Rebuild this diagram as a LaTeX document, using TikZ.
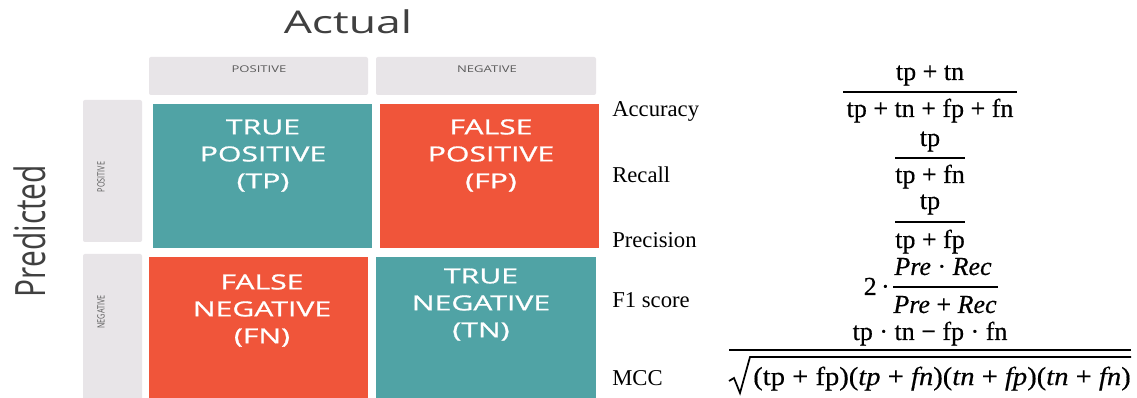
\documentclass[tikz,border=0pt]{standalone}
\usepackage{fontspec}
\newfontfamily\osans{Open Sans}
\newfontfamily\osansm{Open Sans}[FakeBold=0.8]
\newfontfamily\lserif{Liberation Serif}
\newfontfamily\lserifm{Liberation Serif}[FakeBold=0.4]
\definecolor{tealc}{HTML}{50A3A5}
\definecolor{orngc}{HTML}{F0553A}
\definecolor{hdrc}{HTML}{E8E5E8}
\definecolor{hdrtextc}{HTML}{5A5A5A}
\definecolor{ttlc}{HTML}{404040}
\newcommand{\cellstack}[1]{\scalebox{1.45}[1]{\begin{tabular}{@{}c@{}}#1\end{tabular}}}
\begin{document}
\begin{tikzpicture}[x=0.75pt,y=-0.75pt,
  hdrbox/.style={fill=hdrc,draw=none,rounded corners=1.5pt},
  tpbox/.style={fill=tealc,draw=none},
  fpbox/.style={fill=orngc,draw=none},
  celltxt/.style={text=white,font=\osansm\fontsize{15.6}{20.25}\selectfont,inner sep=0pt},
  hdrtxt/.style={text=hdrtextc,inner sep=0pt},
  ttl/.style={text=ttlc,inner sep=0pt,font=\osans\fontsize{23.5}{26}\selectfont},
  lbl/.style={font=\lserif\fontsize{17}{20}\selectfont,anchor=base west,inner sep=0pt},
  frm/.style={font=\lserifm\fontsize{19.5}{22}\selectfont,anchor=base,inner sep=0pt},
  fbar/.style={line width=1.5pt}
]
\fill[white] (0,0) rectangle (1137,398);
\useasboundingbox (0,0) rectangle (1137,398);

% titles
\node[ttl] (actual) at (348,22) {\scalebox{1.42}[1]{Actual}};
\node[ttl,font=\osans\fontsize{22.4}{26}\selectfont] (predicted) at (30,231) {\scalebox{1.4}[1]{\rotatebox{90}{Predicted}}};

% header boxes
\path[hdrbox] (149,57) rectangle (368,95);
\path[hdrbox] (376,57) rectangle (596,95);
\path[hdrbox] (83,100) rectangle (142,242);
\path[hdrbox] (83,254) rectangle (142,402);
\node[hdrtxt,font=\osans\fontsize{7}{8}\selectfont] (hpos) at (259,69) {\scalebox{1.4}[1]{POSITIVE}};
\node[hdrtxt,font=\osans\fontsize{7}{8}\selectfont] (hneg) at (487,69) {\scalebox{1.4}[1]{NEGATIVE}};
\node[hdrtxt,font=\osans\fontsize{5.4}{6}\selectfont] (vpos) at (101,177) {\scalebox{1.4}[1]{\rotatebox{90}{POSITIVE}}};
\node[hdrtxt,font=\osans\fontsize{5.4}{6}\selectfont] (vneg) at (101,312) {\scalebox{1.4}[1]{\rotatebox{90}{NEGATIVE}}};

% cells
\path[tpbox] (153,104) rectangle (372,248);
\path[fpbox] (380,104) rectangle (599,248);
\path[fpbox] (149,257) rectangle (368,402);
\path[tpbox] (376,257) rectangle (596,402);
\node[celltxt] (tp) at (263,156) {\cellstack{TRUE\\POSITIVE\\(TP)}};
\node[celltxt] (fp) at (491,156) {\cellstack{FALSE\\POSITIVE\\(FP)}};
\node[celltxt] (fn) at (262,311) {\cellstack{FALSE\\NEGATIVE\\(FN)}};
\node[celltxt] (tn) at (481,305) {\cellstack{TRUE\\NEGATIVE\\(TN)}};

% formulas
\node[lbl] (acc) at (612,117) {Accuracy};
\node[frm] (accn) at (930,80) {tp + tn};
\draw[fbar] (843,92) -- (1017,92);
\node[frm] (accd) at (930,117) {tp + tn + fp + fn};

\node[lbl] (rec) at (612,183) {Recall};
\node[frm] (recn) at (930,146) {tp};
\draw[fbar] (895,158) -- (965,158);
\node[frm] (recd) at (930,183) {tp + fn};

\node[lbl] (pre) at (612,248) {Precision};
\node[frm] (pren) at (930,209) {tp};
\draw[fbar] (895,222) -- (965,222);
\node[frm] (pred) at (930,248) {tp + fp};

\node[lbl] (f1) at (612,308) {F1 score};
\node[frm,anchor=base east] (f1two) at (890,295) {2\,·};
\node[frm] (f1n) at (943,275) {\textit{Pre} · \textit{Rec}};
\draw[fbar] (893,287) -- (998,287);
\node[frm] (f1d) at (945,313) {\textit{Pre} + \textit{Rec}};

\node[lbl] (mcc) at (612,386) {MCC};
\node[frm] (mccn) at (930,340) {tp · tn − fp · fn};
\draw[fbar] (729,350) -- (1131,350);
\draw[line width=1.3pt,line join=miter] (729,381) -- (734,378) -- (740,393) -- (750,357) -- (1131,357);
\node[frm,anchor=base west] (mccd) at (753,385) {\scalebox{1.1}[1]{(tp + fp)(\textit{tp} + \textit{fn})(\textit{tn} + \textit{fp})(\textit{tn} + \textit{fn})}};
\end{tikzpicture}
\end{document}
